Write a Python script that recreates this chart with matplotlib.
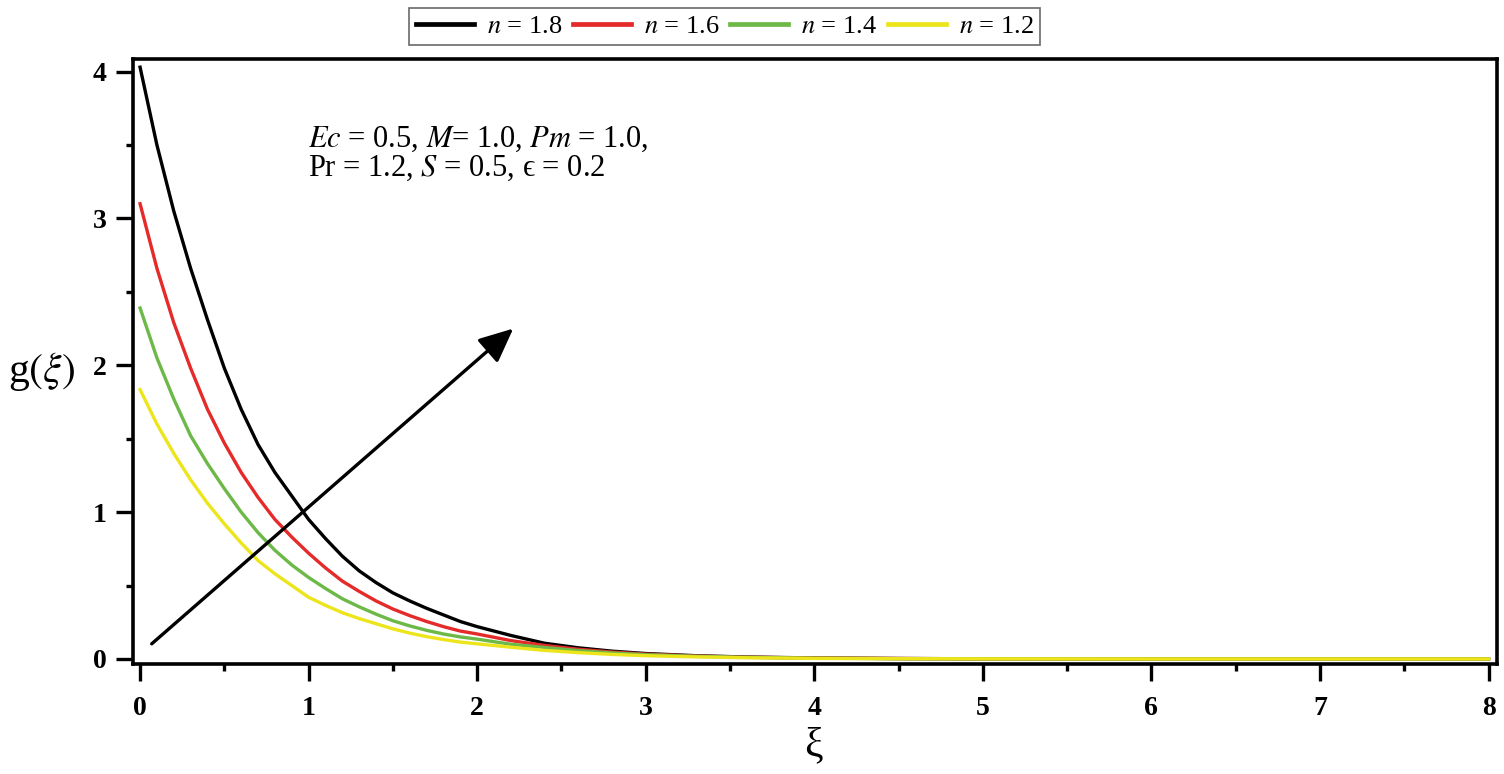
import numpy as np
import matplotlib.pyplot as plt
from matplotlib.ticker import MultipleLocator

plt.rcParams['font.family'] = ['Liberation Serif', 'DejaVu Serif']
plt.rcParams['mathtext.fontset'] = 'stix'

# values
xi = [0, 0.1, 0.2, 0.3, 0.4, 0.5, 0.6, 0.7, 0.8, 0.9, 1.0,
      1.1, 1.2, 1.3, 1.4, 1.5, 1.6, 1.7, 1.8, 1.9, 2.0,
      2.2, 2.4, 2.6, 2.8, 3.0, 3.3, 3.6, 4.0, 4.5, 5.0, 6.0, 7.0, 8.0]
g_18 = [4.03, 3.50, 3.05, 2.66, 2.31, 1.98, 1.70, 1.46, 1.27, 1.11, 0.95,
        0.82, 0.70, 0.60, 0.52, 0.45, 0.395, 0.345, 0.30, 0.255, 0.22,
        0.16, 0.107, 0.076, 0.053, 0.037, 0.022, 0.013, 0.007, 0.003, 0.001, 0.0, 0.0, 0.0]
g_16 = [3.10, 2.66, 2.29, 1.98, 1.70, 1.47, 1.27, 1.10, 0.95, 0.83, 0.72,
        0.62, 0.53, 0.46, 0.395, 0.34, 0.295, 0.255, 0.22, 0.19, 0.17,
        0.125, 0.092, 0.066, 0.047, 0.033, 0.02, 0.012, 0.006, 0.003, 0.001, 0.0, 0.0, 0.0]
g_14 = [2.39, 2.05, 1.77, 1.52, 1.33, 1.16, 1.00, 0.86, 0.74, 0.64, 0.555,
        0.48, 0.41, 0.355, 0.305, 0.26, 0.225, 0.195, 0.17, 0.15, 0.135,
        0.10, 0.078, 0.057, 0.041, 0.029, 0.018, 0.011, 0.005, 0.002, 0.001, 0.0, 0.0, 0.0]
g_12 = [1.834, 1.60, 1.40, 1.22, 1.06, 0.92, 0.79, 0.67, 0.58, 0.50, 0.42,
        0.365, 0.315, 0.275, 0.24, 0.205, 0.176, 0.152, 0.132, 0.115, 0.103,
        0.08, 0.058, 0.043, 0.031, 0.022, 0.014, 0.008, 0.004, 0.002, 0.001, 0.0, 0.0, 0.0]

series = [g_18, g_16, g_14, g_12]
labels = ['$n$ = 1.8', '$n$ = 1.6', '$n$ = 1.4', '$n$ = 1.2']
colors = ['black', '#e52a2a', '#6cb947', '#ede51c']

arrow_start = (0.069, 0.103)
arrow_end = (2.214, 2.25)

fig = plt.figure(figsize=(15.04, 7.74), dpi=100)
ax = fig.add_axes([0.0882, 0.142, 0.9071, 0.7818])

lines = []
for y, lab, c in zip(series, labels, colors):
    ln, = ax.plot(xi, y, color=c, lw=2.4, label=lab, solid_joinstyle='round')
    lines.append(ln)

ax.annotate('', xy=arrow_end, xytext=arrow_start,
            arrowprops=dict(arrowstyle='-|>,head_length=0.55,head_width=0.25',
                            color='black', lw=2.4, mutation_scale=38,
                            shrinkA=0, shrinkB=0))

ax.text(0.996, 3.486, '$Ec$ = 0.5, $M$= 1.0, $Pm$ = 1.0,', fontsize=22, va='baseline')
ax.text(0.996, 3.288, 'Pr = 1.2, $S$ = 0.5, ϵ = 0.2', fontsize=22, va='baseline')

ax.set_xlim(-0.044, 8.05)
ax.set_ylim(-0.035, 4.086)
ax.xaxis.set_major_locator(MultipleLocator(1))
ax.xaxis.set_minor_locator(MultipleLocator(0.5))
ax.yaxis.set_major_locator(MultipleLocator(1))
ax.yaxis.set_minor_locator(MultipleLocator(0.5))
ax.tick_params(which='major', length=12, width=2.4, direction='out')
ax.tick_params(which='minor', length=5, width=2.4, direction='out')
ax.tick_params(axis='x', pad=11)
ax.tick_params(axis='y', pad=7)
for lab in ax.get_xticklabels() + ax.get_yticklabels():
    lab.set_fontweight('bold')
    lab.set_fontsize(20)
for sp in ax.spines.values():
    sp.set_linewidth(2.6)

fig.text(0.541, 0.036, 'ξ', fontsize=30, ha='center', va='center')
fig.text(0.028, 0.52, 'g$(\\xi)$', fontsize=30, ha='center', va='center')

leg = fig.legend(handles=lines, loc='center', bbox_to_anchor=(0.482, 0.966),
                 ncol=4, fontsize=19, frameon=True, fancybox=False,
                 handlelength=2.2, handletextpad=0.5, columnspacing=0.4,
                 borderpad=0.25, edgecolor='#444444')
leg.get_frame().set_linewidth(1.2)
for h in leg.get_lines():
    h.set_linewidth(3.4)

fig.savefig('out.png', dpi=100)
